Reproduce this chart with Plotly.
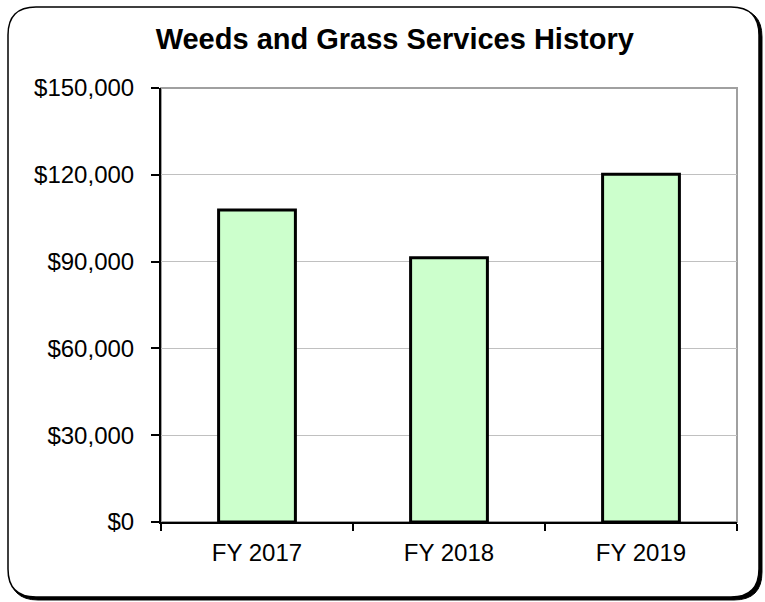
import plotly.graph_objects as go

# 数据
years = ['FY 2017', 'FY 2018', 'FY 2019']
costs = [107800, 91300, 120200]

W, H = 765, 602
L, R, T, B = 161, 737, 88, 522   # 绘图区像素边界


def px2paper(x, y):
    return (x - L) / (R - L), (B - y) / (B - T)


def round_rect(x0, y0, x1, y1, r):
    # 用二次曲线画圆角矩形（纸面坐标）
    pts = [
        ('M', (x0 + r, y0)), ('L', (x1 - r, y0)), ('Q', (x1, y0), (x1, y0 + r)),
        ('L', (x1, y1 - r)), ('Q', (x1, y1), (x1 - r, y1)),
        ('L', (x0 + r, y1)), ('Q', (x0, y1), (x0, y1 - r)),
        ('L', (x0, y0 + r)), ('Q', (x0, y0), (x0 + r, y0)),
    ]
    s = ''
    for p in pts:
        s += p[0] + ' ' + ' '.join('%.5f,%.5f' % px2paper(*c) for c in p[1:]) + ' '
    return s + 'Z'


fig = go.Figure(go.Bar(
    x=years,
    y=costs,
    marker=dict(color='#CCFFCC', line=dict(color='black', width=3)),
    width=0.4,
))

shapes = [
    # 外框阴影
    dict(type='path', xref='paper', yref='paper', layer='below',
         path=round_rect(10, 9, 762, 600, 28), fillcolor='black', line=dict(color='black', width=1)),
    # 外框
    dict(type='path', xref='paper', yref='paper', layer='below',
         path=round_rect(8, 7, 759, 597, 28), fillcolor='white', line=dict(color='black', width=1.5)),
    # 绘图区边框
    dict(type='rect', xref='paper', yref='paper', x0=0, x1=1, y0=0, y1=1,
         line=dict(color='#a0a0a0', width=2), layer='below'),
]

fig.update_layout(
    width=W, height=H,
    margin=dict(l=L, r=W - R, t=T, b=H - B),
    paper_bgcolor='white',
    plot_bgcolor='white',
    font=dict(family='Liberation Sans, Arial', size=24, color='black'),
    title=dict(text='<b>Weeds and Grass Services History</b>', x=0.516, xanchor='center',
               y=1 - 39 / H, yanchor='middle', font=dict(size=29)),
    shapes=shapes,
    showlegend=False,
)
fig.update_yaxes(
    range=[0, 150000], dtick=30000, tickprefix='$', tickformat=',',
    showgrid=True, gridcolor='#c0c0c0', gridwidth=1,
    showline=True, linecolor='black', linewidth=2,
    ticks='outside', ticklen=8, tickcolor='black', tickwidth=1.5,
    ticklabelstandoff=12,
    zeroline=False,
)
fig.update_xaxes(
    showline=True, linecolor='black', linewidth=2,
    ticks='outside', tickson='boundaries', ticklen=7, tickcolor='black', tickwidth=1.5,
    ticklabelstandoff=8,
    showgrid=False,
)

# 去掉页面默认边距，使图表与窗口对齐
fig.write_html('out.html', config={'displayModeBar': False},
               post_script="document.body.style.margin='0';")
